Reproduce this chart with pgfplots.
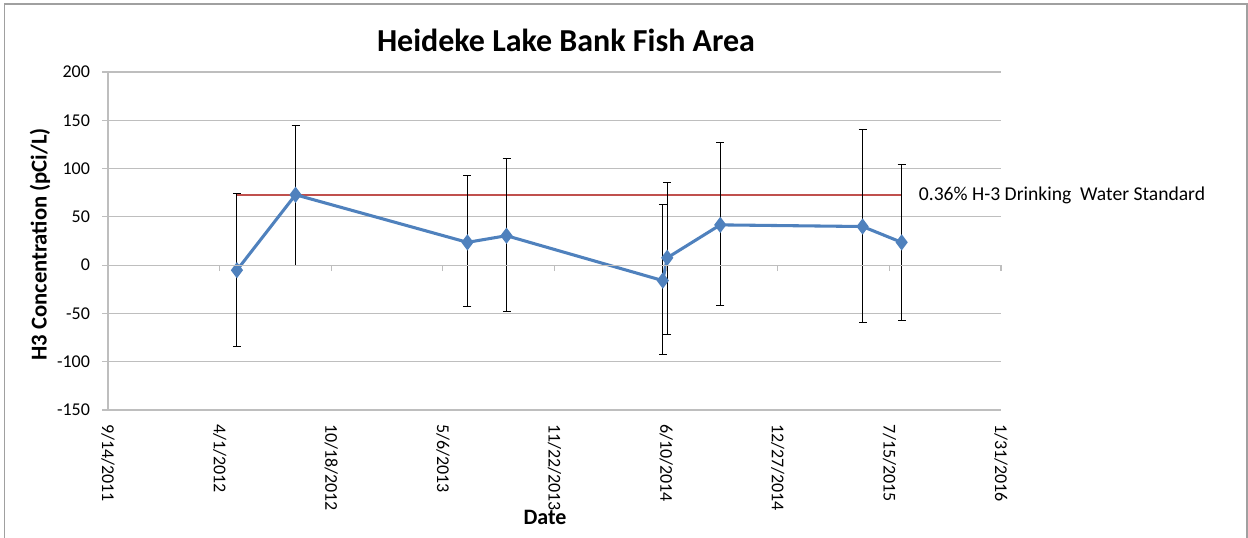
\documentclass[border=0pt]{standalone}
\usepackage{pgfplots}
\pgfplotsset{compat=1.18}
\usepackage{fontspec}
\setmainfont{Carlito}
\definecolor{xlblue}{RGB}{79,129,189}
\definecolor{xlred}{RGB}{192,80,77}
\definecolor{gridgray}{RGB}{190,190,190}
\definecolor{framegray}{RGB}{160,160,160}
\begin{document}
\begin{tikzpicture}
\useasboundingbox (0,0) rectangle (936pt,402.75pt);
\draw[framegray, line width=1pt] (3.375pt,-5pt) -- (3.375pt,399.75pt) -- (935.25pt,399.75pt) -- (935.25pt,-5pt);
\node[font=\fontsize{24}{28}\selectfont\bfseries] at (424.5pt,372.75pt) {Heideke Lake Bank Fish Area};
\node[font=\fontsize{17}{19}\selectfont\bfseries, rotate=90] at (30pt,219.4pt) {H3 Concentration (pCi/L)};
\node[font=\fontsize{16.5}{18}\selectfont\bfseries] at (408.75pt,15pt) {Date};
\begin{axis}[
  at={(81pt,95.25pt)}, anchor=south west,
  scale only axis, width=669.75pt, height=253.5pt,
  xmin=40800, xmax=42400, ymin=-150, ymax=200,
  axis x line=none, axis y line*=left,
  y axis line style={gridgray, line width=0.8pt, -},
  ytick={-150,-100,...,200},
  ymajorgrids, grid style={gridgray, line width=0.8pt},
  y tick style={gridgray, line width=0.8pt},
  tick align=outside, major tick length=4.5pt,
  yticklabel style={font=\fontsize{13.5}{15}\selectfont, xshift=-5.5pt},
  /pgf/number format/assume math mode=true,
  clip=false,
]
\addplot[xlred, line width=1.6pt, mark=none] coordinates {(41031,72.2) (42222,72.2)};
\node[anchor=west, inner sep=0pt, xshift=12.75pt, font=\fontsize{14.7}{16}\selectfont] at (axis cs:42222,72.2) {0.36\% H-3 Drinking\ \ Water Standard};
\addplot[xlblue, line width=2.3pt, mark=diamond*, mark size=4.2pt,
  error bars/.cd, y dir=both, y explicit,
  error bar style={black, line width=0.7pt, solid},
  error mark options={black, rotate=90, mark size=3pt, line width=0.7pt}]
  table[x=x, y=y, y error plus=ep, y error minus=em] {
  x     y     ep     em
  41031 -5.2  79.2   79.5
  41136 72.9  72.1   73.6
  41444 23.6  69.4   66.6
  41514 30.5  79.5   78.5
  41794 -16.0 78.5   77.0
  41802 7.6   77.8   79.6
  41897 41.7  85.3   83.4
  42152 40.0  100.6  99.7
  42222 23.6  80.9   81.2
  };
\end{axis}
\begin{axis}[
  at={(81pt,95.25pt)}, anchor=south west,
  scale only axis, width=669.75pt, height=253.5pt,
  xmin=40800, xmax=42400, ymin=-150, ymax=200,
  axis y line=none, axis x line=middle,
  x axis line style={gridgray, line width=0.8pt, -},
  xtick={40800,41000,...,42400}, xticklabels={}, scaled x ticks=false,
  x tick style={gridgray, line width=0.8pt, yshift=-2.25pt},
  major tick length=4.5pt,
]
\end{axis}
\begin{axis}[
  at={(81pt,95.25pt)}, anchor=south west,
  scale only axis, width=669.75pt, height=253.5pt,
  xmin=40800, xmax=42400, ymin=-150, ymax=200,
  axis y line=none, axis x line=bottom, x axis line style={draw=none},
  xtick={40800,41000,...,42400}, major tick length=0pt, scaled x ticks=false,
  xticklabels={9/14/2011,4/1/2012,10/18/2012,5/6/2013,11/22/2013,6/10/2014,12/27/2014,7/15/2015,1/31/2016},
  xticklabel style={font=\fontsize{13.5}{15}\selectfont, rotate=-90, anchor=west, xshift=7pt},
]
\end{axis}
\end{tikzpicture}
\end{document}
